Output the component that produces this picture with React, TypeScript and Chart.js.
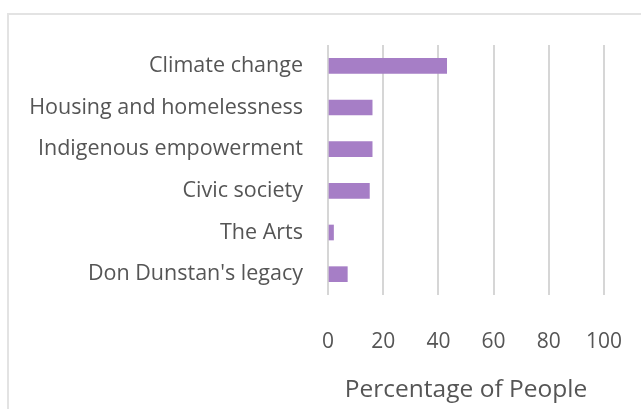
import React, { useEffect, useRef } from "react";
import { Chart, registerables } from "chart.js";

Chart.register(...registerables);

const categories = [
  "Climate change",
  "Housing and homelessness",
  "Indigenous empowerment",
  "Civic society",
  "The Arts",
  "Don Dunstan's legacy",
];
const values = [43, 16, 16, 15, 2, 7];
const xTicks = [0, 20, 40, 60, 80, 100];
const xTitle = "Percentage of People";

const FONT = "'Open Sans', sans-serif";
const TEXT = "#555555";

export default function App() {
  const ref = useRef<HTMLCanvasElement | null>(null);
  useEffect(() => {
    document.body.style.margin = "0";
    const canvas = ref.current;
    if (!canvas) return;
    const chart = new Chart(canvas, {
      type: "bar",
      data: {
        labels: categories,
        datasets: [
          {
            data: values,
            backgroundColor: "#A67EC6",
            borderWidth: 0,
            barThickness: 15,
          },
        ],
      },
      options: {
        indexAxis: "y",
        animation: false,
        responsive: false,
        layout: { padding: { top: 45, right: 37, left: 0, bottom: 0 } },
        plugins: { legend: { display: false }, tooltip: { enabled: false } },
        scales: {
          x: {
            min: 0,
            max: 100,
            afterBuildTicks: (scale: any) => {
              scale.ticks = xTicks.map((v) => ({ value: v }));
            },
            afterFit: (scale: any) => {
              scale.height = 114;
              scale.paddingLeft = 0;
              scale.paddingRight = 0;
            },
            grid: { color: "#D6D6D6", lineWidth: 2, drawTicks: false },
            border: { display: false },
            ticks: {
              padding: 34,
              color: TEXT,
              font: { family: FONT, size: 21 },
              maxRotation: 0,
            },
            title: {
              display: true,
              text: xTitle,
              color: TEXT,
              font: { family: FONT, size: 24.5 },
              padding: { top: 4, bottom: 4 },
            },
          },
          y: {
            afterFit: (scale: any) => {
              scale.width = 328;
            },
            grid: { display: false, drawTicks: false },
            border: { display: false },
            ticks: {
              padding: 25,
              color: TEXT,
              font: { family: FONT, size: 21.5 },
            },
          },
        },
      },
    });
    return () => chart.destroy();
  }, []);
  return (
    <div style={{ position: "relative", width: 641, height: 409, overflow: "hidden", background: "#fff" }}>
      <div
        style={{
          position: "absolute",
          left: 7,
          top: 13,
          width: 700,
          height: 450,
          borderLeft: "2px solid #E3E3E3",
          borderTop: "2px solid #E3E3E3",
        }}
      />
      <canvas ref={ref} width={641} height={409} style={{ position: "absolute", left: 0, top: 0 }} />
    </div>
  );
}
